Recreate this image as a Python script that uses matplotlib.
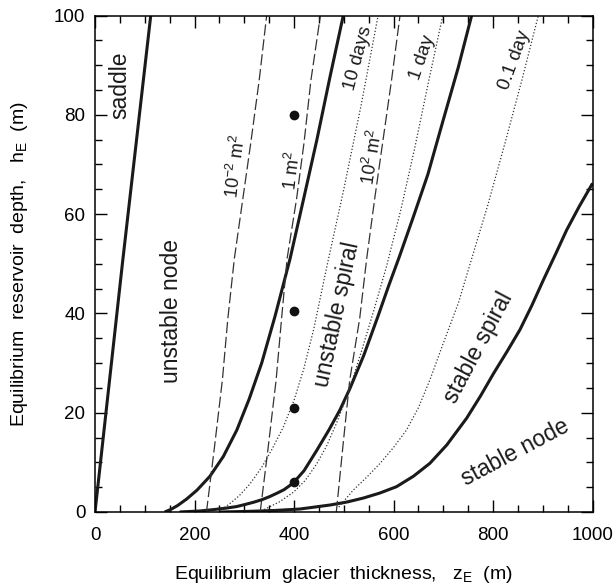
import numpy as np
import matplotlib.pyplot as plt

plt.rcParams['font.family'] = ['Liberation Sans', 'DejaVu Sans']
plt.rcParams['mathtext.fontset'] = 'custom'
plt.rcParams['mathtext.rm'] = 'Liberation Sans'
plt.rcParams['mathtext.it'] = 'Liberation Sans'

# bifurcation boundaries (bold)
saddle_x = [0, 55, 112]
saddle_y = [0, 50, 100]

node_x = [140, 152, 166, 184, 205, 231, 258, 285, 310, 335, 362, 392, 418, 446, 472, 499]
node_y = [0, 0.5, 1.3, 2.6, 4.4, 7.2, 11.2, 16.5, 22.8, 30, 39.5, 51, 62.5, 75, 87.5, 100]

spiral_x = [170, 210, 240, 265, 285, 305, 320, 336, 351, 366, 380, 398, 420, 445, 470, 492,
            512, 540, 569, 590, 612, 640, 669, 700, 730, 757]
spiral_y = [0, 0.2, 0.5, 0.8, 1.1, 1.6, 2.0, 2.5, 3.1, 3.8, 4.5, 5.8, 8.3, 12.3, 16.5, 20.5,
            24.8, 31.5, 39.5, 45.5, 51.5, 59.5, 68, 79, 89.5, 100]

stable_x = [250, 300, 360, 412, 472, 506, 539, 572, 606, 640, 673, 707, 747, 775, 801, 828,
            854, 878, 901, 925, 948, 973, 1000]
stable_y = [0, 0.1, 0.3, 0.6, 1.4, 2.0, 2.8, 3.8, 5.1, 7.2, 9.8, 13.5, 18.9, 23.4, 27.9, 32.3,
            36.7, 41.6, 46.7, 51.8, 56.8, 61.5, 66.2]

# constant reservoir area (dashed)
area_y = [0, 13, 26.6, 39, 51, 63, 74.3, 87, 100]
area_m2_x = [224, 240, 256, 267, 280, 297, 313, 330, 345]
area_1_x = [332, 348, 364, 375, 386, 405, 420, 434, 453]
area_p2_x = [485, 498, 512, 532, 546, 562, 578, 596, 613]

# constant time scale (dotted)
d10_x = [255, 275, 290, 311, 335, 355, 378, 400, 420, 440, 465, 500, 535, 569]
d10_y = [0.5, 2, 3.3, 5.6, 9, 12.5, 17, 22.5, 29, 37, 49, 65, 82, 100]
d1_x = [340, 370, 399, 422, 445, 465, 485, 505, 520, 536, 560, 586, 615, 643, 670, 699]
d1_y = [0.5, 2, 4, 6.3, 9.6, 13.2, 17.8, 23, 27.5, 32.5, 40.5, 49.5, 61, 73.5, 86.5, 100]
d01_x = [490, 519, 546, 573, 600, 626, 650, 673, 700, 730, 757, 790, 824, 858, 891]
d01_y = [1, 4.4, 7, 9.8, 13, 16.5, 21, 26.6, 34, 42, 51, 62, 74.3, 87, 100]

# model runs
pts_x = [400, 400, 400, 400]
pts_y = [80, 40.5, 21, 6]

fig = plt.figure(figsize=(6.15, 5.85), dpi=100)
ax = fig.add_axes([0.1545, 0.1248, 0.809, 0.8487])

for xs, ys in [(saddle_x, saddle_y), (node_x, node_y), (spiral_x, spiral_y), (stable_x, stable_y)]:
    ax.plot(xs, ys, color='#1a1a1a', lw=2.2, solid_capstyle='butt', solid_joinstyle='round')

for xs in [area_m2_x, area_1_x, area_p2_x]:
    ax.plot(xs, area_y, color='#333333', lw=0.9, dashes=(9, 3))

for xs, ys in [(d10_x, d10_y), (d1_x, d1_y), (d01_x, d01_y)]:
    ax.plot(xs, ys, color='#333333', lw=0.9, dashes=(1, 1.6))

ax.plot(pts_x, pts_y, 'o', color='#111111', ms=6)

ax.set_xlim(0, 1000)
ax.set_ylim(0, 100)
ax.set_xticks(np.arange(0, 1001, 200))
ax.set_xticks(np.arange(0, 1001, 50), minor=True)
ax.set_yticks(np.arange(0, 101, 20))
ax.set_yticks(np.arange(0, 101, 5), minor=True)
ax.tick_params(which='both', direction='in', top=True, right=True, width=1, labelsize=13.5)
ax.tick_params(which='major', length=8.5)
ax.tick_params(which='minor', length=5)
ax.tick_params(axis='x', pad=11)
ax.tick_params(axis='y', pad=7)
for s in ax.spines.values():
    s.set_linewidth(1.1)

ax.set_xlabel('Equilibrium  glacier  thickness,   z$_{\\mathrm{E}}$  (m)', fontsize=14, labelpad=14)
ax.set_ylabel('Equilibrium  reservoir  depth,   h$_{\\mathrm{E}}$  (m)', fontsize=14, labelpad=17)

lab = dict(ha='center', va='center', rotation_mode='anchor', color='#1a1a1a')
ax.text(50, 86, 'saddle', rotation=90, fontsize=16.5, **lab)
ax.text(154, 40.5, 'unstable node', rotation=90, fontsize=16.5, **lab)
ax.text(486, 39.7, 'unstable spiral', rotation=78, fontsize=16.5, **lab)
ax.text(770, 33, 'stable spiral', rotation=62, fontsize=16.5, **lab)
ax.text(844, 12, 'stable node', rotation=28, fontsize=16.5, **lab)

ax.text(283, 69.7, '10$^{-2}$ m$^{2}$', rotation=83, fontsize=13, **lab)
ax.text(396, 68.8, '1 m$^{2}$', rotation=83, fontsize=13, **lab)
ax.text(557, 71.5, '10$^{2}$ m$^{2}$', rotation=81, fontsize=13, **lab)
ax.text(529, 91.4, '10 days', rotation=75, fontsize=13.5, **lab)
ax.text(659, 91.6, '1 day', rotation=71, fontsize=13.5, **lab)
ax.text(844, 91, '0.1 day', rotation=70, fontsize=13.5, **lab)

fig.savefig('out.png', dpi=100)
